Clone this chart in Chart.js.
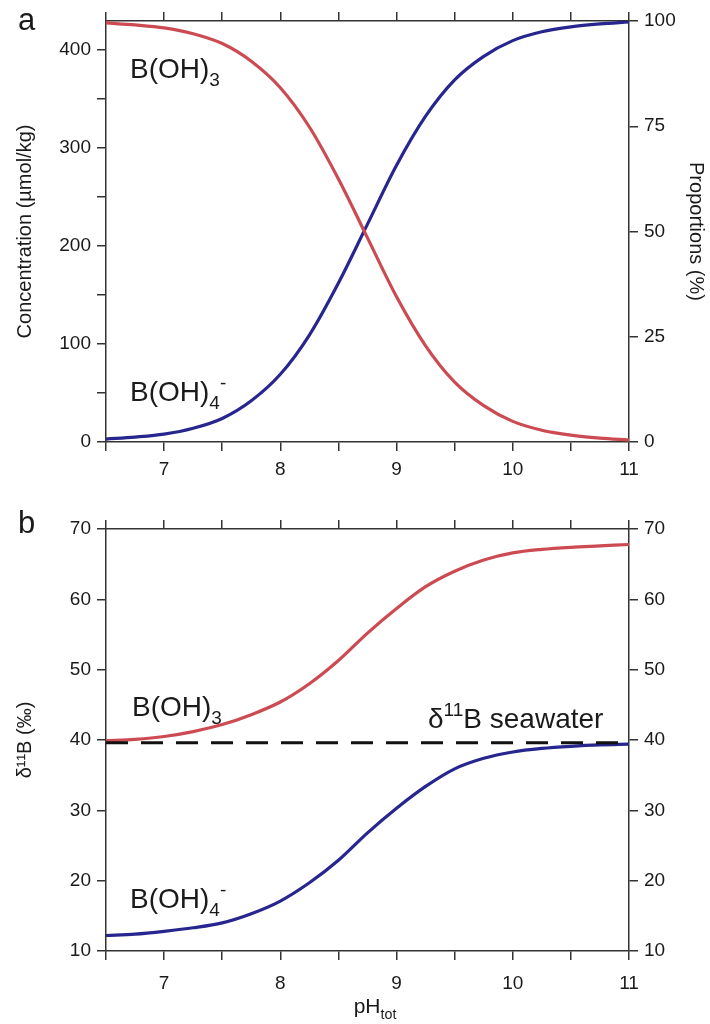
<!DOCTYPE html>
<html>
<head>
<meta charset="utf-8">
<script src="https://cdn.jsdelivr.net/npm/chart.js@4.4.0/dist/chart.umd.min.js"></script>
<style>
    html, body { margin: 0; padding: 0; background: #fff; }
    #wrap { position: relative; width: 710px; height: 1024px; }
    canvas { position: absolute; left: 0; }
    #chartA { top: 0; }
    #chartB { top: 490px; }
</style>
</head>
<body>
<div id="wrap">
    <canvas id="chartA" width="710" height="490"></canvas>
    <canvas id="chartB" width="710" height="534"></canvas>
</div>
<script>
// values
const phValues = [6.5, 6.75, 7, 7.25, 7.5, 7.75, 8, 8.25, 8.5, 8.75, 9, 9.25, 9.5, 9.75, 10, 10.25, 10.5, 10.75, 11];
const boricConc = [427, 425, 422, 416, 406, 388, 361, 321, 268, 208, 148, 98, 61, 37, 21, 12, 7, 4, 2];
const borateConc = [3, 5, 8, 14, 24, 42, 69, 109, 162, 222, 282, 332, 369, 393, 409, 418, 423, 426, 428];
const boricD11B = [39.9, 40.1, 40.5, 41.2, 42.2, 43.6, 45.4, 48.0, 51.3, 55.2, 58.7, 61.8, 64.0, 65.6, 66.6, 67.1, 67.4, 67.6, 67.8];
const borateD11B = [12.2, 12.4, 12.8, 13.3, 14.0, 15.3, 17.1, 19.7, 22.9, 26.8, 30.3, 33.4, 35.9, 37.4, 38.3, 38.8, 39.1, 39.3, 39.4];
const seawaterD11B = 39.6;
const totalBoron = 429;      // concentration at 100 %
const concRange = [0, totalBoron];
const propRange = [0, 100];
const d11bRange = [10, 70];

const family = "'Liberation Sans', Arial, Helvetica, sans-serif";
const textColor = "#1a1a1a";
const axisColor = "#333";
const red = "#cc4b52";
const blue = "#27268f";

function points(ys) {
    return phValues.map((x, i) => ({ x: x, y: ys[i] }));
}

function curve(ys, color) {
    return {
        data: points(ys),
        borderColor: color,
        borderWidth: 3.2,
        pointRadius: 0,
        tension: 0.4,
        cubicInterpolationMode: "monotone",
        xAxisID: "x",
        yAxisID: "y",
    };
}

function xAxis(position, labels, height, pad) {
    return {
        type: "linear",
        position: position,
        min: phValues[0],
        max: phValues[phValues.length - 1],
        ticks: {
            stepSize: 0.5,
            autoSkip: false,
            maxRotation: 0,
            padding: pad,
            color: textColor,
            font: { size: 19, family: family },
            callback: v => (labels && Number.isInteger(v)) ? String(v) : "",
        },
        grid: { drawOnChartArea: false, drawTicks: true, tickLength: 9, color: axisColor, lineWidth: 1.5 },
        border: { color: axisColor, width: 1.5 },
        afterFit: s => { s.height = height; },
    };
}

function yAxis(position, range, step, labelEvery, width, title, titlePad) {
    return {
        type: "linear",
        position: position,
        min: range[0],
        max: range[1],
        ticks: {
            stepSize: step,
            includeBounds: false,
            autoSkip: false,
            padding: 6,
            color: textColor,
            font: { size: 19, family: family },
            callback: v => (v % labelEvery === 0) ? String(v) : "",
        },
        grid: { drawOnChartArea: false, drawTicks: true, tickLength: 9, color: axisColor, lineWidth: 1.5 },
        border: { color: axisColor, width: 1.5 },
        title: {
            display: !!title,
            text: title,
            color: textColor,
            font: { size: 20, family: family },
            padding: { top: titlePad, bottom: 0 },
        },
        afterFit: s => { s.width = width; },
    };
}

// text with sub/superscripts: parts = [[text, shift]], shift -1 sub, 1 sup
function drawRich(ctx, x, y, parts, size, align) {
    ctx.save();
    ctx.fillStyle = textColor;
    ctx.textBaseline = "alphabetic";
    ctx.textAlign = "left";
    let total = 0;
    parts.forEach(p => {
        ctx.font = (p[1] ? size * 0.68 : size) + "px " + family;
        total += ctx.measureText(p[0]).width;
    });
    let cx = align === "center" ? x - total / 2 : x;
    parts.forEach(p => {
        const s = p[1] ? size * 0.68 : size;
        ctx.font = s + "px " + family;
        let dy = 0;
        if (p[1] === -1) dy = size * 0.28;
        if (p[1] === 1) dy = -size * 0.42;
        ctx.fillText(p[0], cx, y + dy);
        cx += ctx.measureText(p[0]).width;
    });
    ctx.restore();
}

function labelsPlugin(items) {
    return {
        id: "labels",
        afterDraw(chart) {
            items.forEach(it => drawRich(chart.ctx, it.x, it.y, it.parts, it.size, it.align));
        },
    };
}

const common = {
    responsive: false,
    animation: false,
    devicePixelRatio: 1,
    layout: { padding: 0 },
    plugins: { legend: { display: false }, tooltip: { enabled: false } },
};

// panel a
new Chart(document.getElementById("chartA"), {
    type: "line",
    data: { datasets: [curve(boricConc, red), curve(borateConc, blue)] },
    options: Object.assign({}, common, {
        scales: {
            x: xAxis("bottom", true, 48, 7),
            xTop: xAxis("top", false, 21, 0),
            y: yAxis("left", concRange, 50, 100, 106, "Concentration (µmol/kg)", 13),
            y2: yAxis("right", propRange, 25, 25, 81, "Proportions (%)", 2),
        },
    }),
    plugins: [labelsPlugin([
        { x: 18, y: 30, parts: [["a", 0]], size: 31 },
        { x: 130, y: 78, parts: [["B(OH)", 0], ["3", -1]], size: 28 },
        { x: 130, y: 401, parts: [["B(OH)", 0], ["4", -1], ["-", 1]], size: 28 },
    ])],
});

// panel b
const seawaterLine = {
    data: [{ x: phValues[0], y: seawaterD11B }, { x: phValues[phValues.length - 1], y: seawaterD11B }],
    borderColor: "#111",
    borderWidth: 3,
    borderDash: [22, 13],
    pointRadius: 0,
    xAxisID: "x",
    yAxisID: "y",
};

new Chart(document.getElementById("chartB"), {
    type: "line",
    data: { datasets: [seawaterLine, curve(boricD11B, red), curve(borateD11B, blue)] },
    options: Object.assign({}, common, {
        scales: {
            x: xAxis("bottom", true, 73, 12),
            xTop: xAxis("top", false, 39, 0),
            y: yAxis("left", d11bRange, 10, 10, 106, "δ¹¹B (‰)", 13),
            y2: yAxis("right", d11bRange, 10, 10, 81, "", 0),
        },
    }),
    plugins: [labelsPlugin([
        { x: 18, y: 43, parts: [["b", 0]], size: 31 },
        { x: 132, y: 226, parts: [["B(OH)", 0], ["3", -1]], size: 28 },
        { x: 130, y: 418, parts: [["B(OH)", 0], ["4", -1], ["-", 1]], size: 28 },
        { x: 428, y: 238, parts: [["δ", 0], ["11", 1], ["B seawater", 0]], size: 28 },
        { x: 375, y: 523, parts: [["pH", 0], ["tot", -1]], size: 21, align: "center" },
    ])],
});
</script>
</body>
</html>
